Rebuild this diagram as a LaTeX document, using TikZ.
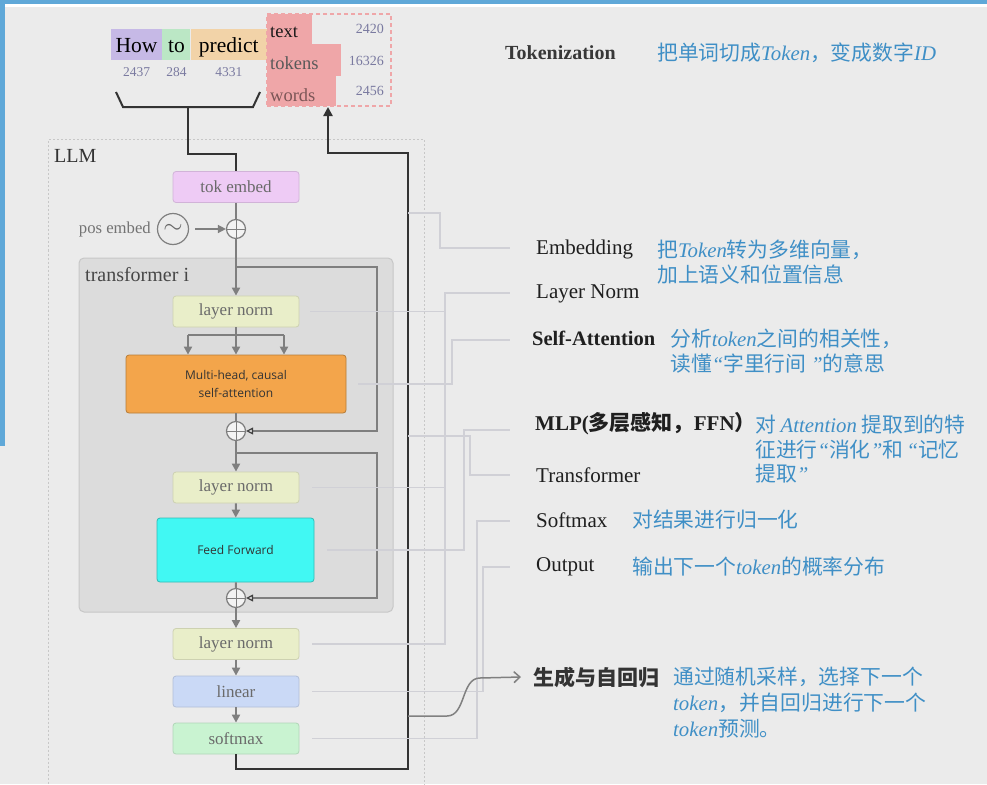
\documentclass[tikz,border=0pt]{standalone}
\usepackage{fontspec}
\setmainfont{Liberation Serif}
\newfontfamily\cjk{Noto Sans CJK SC}
\newfontfamily\uisans{Open Sans}
\usetikzlibrary{arrows.meta,positioning}

\definecolor{bgc}{HTML}{EBEBEB}
\definecolor{framec}{HTML}{5FA8D8}
\definecolor{flowc}{HTML}{7F7F7F}
\definecolor{loopc}{HTML}{333333}
\definecolor{leadc}{HTML}{D0D0D6}
\definecolor{descc}{HTML}{3F8FC6}
\definecolor{boxtext}{HTML}{6A6A6A}
\definecolor{howc}{HTML}{C6B9E6}
\definecolor{toc}{HTML}{BBE7C5}
\definecolor{predc}{HTML}{F2D3A8}
\definecolor{pinkc}{HTML}{EFA6A8}
\definecolor{numc}{HTML}{7A7AA0}
\definecolor{embc}{HTML}{EECBF5}
\definecolor{lnc}{HTML}{E9EEC9}
\definecolor{attc}{HTML}{F3A54B}
\definecolor{ffnc}{HTML}{41F8F3}
\definecolor{linc}{HTML}{CAD9F6}
\definecolor{smc}{HTML}{C9F3D1}
\definecolor{tblc}{HTML}{DCDCDC}

\newcommand\engit[1]{{\rmfamily\itshape #1}}
\newcommand\oq{{\rmfamily\itshape “}}
\newcommand\cq{{\rmfamily\itshape ”}}

\begin{document}
\begin{tikzpicture}[x=1pt, y=-1pt,
		blk/.style={rectangle, rounded corners=3pt, fill=#1, draw=#1!88!black, line width=0.8pt, minimum width=126pt, minimum height=31pt, inner sep=0pt, font=\fontsize{17}{18}\selectfont, text=boxtext},
		bigblk/.style={rectangle, rounded corners=3pt, fill=#1, draw=#1!75!black, line width=0.8pt, inner sep=0pt, align=center, font=\uisans\fontsize{12}{18}\selectfont, text=black!80},
		word/.style={rectangle, inner sep=0pt, minimum height=31pt, text height=16pt, text depth=0pt, font=\fontsize{21.5}{21.5}\selectfont, text=black},
		num/.style={inner sep=0pt, font=\fontsize{13.5}{14}\selectfont, text=numc},
		addc/.style={circle, draw=flowc, fill=bgc!60!white, line width=1.2pt, minimum size=19pt, inner sep=0pt,
			path picture={\draw[flowc, line width=1pt] (path picture bounding box.north) -- (path picture bounding box.south) (path picture bounding box.west) -- (path picture bounding box.east);}},
		flow/.style={draw=flowc, line width=2pt, -{Triangle[length=8pt, width=8pt]}},
		flowline/.style={draw=flowc, line width=2pt},
		resid/.style={draw=flowc, line width=2pt, -{Triangle[open, length=7pt, width=7pt, line width=1.2pt, color=black!75]}},
		backline/.style={draw=loopc, line width=2.2pt},
		lead/.style={draw=leadc, line width=1.2pt},
		lbl/.style={anchor=west, inner sep=0pt, font=\fontsize{21}{24}\selectfont, text=black!88},
		desc/.style={anchor=north west, align=left, inner sep=0pt, font=\cjk\fontsize{20.8}{25}\selectfont, text=descc}
	]
		\useasboundingbox (0,0) rectangle (987,784);
		% Background and frame
		\fill[bgc] (0,0) rectangle (987,784);
		\fill[framec] (0,0) rectangle (987,4);
		\fill[white] (5,4) rectangle (987,7);
		\fill[framec] (0,0) rectangle (5,446);
		
		% Tokens
		\node[word, fill=howc, minimum width=51pt] (how) at (136.5,44.5) {How};
		\node[word, fill=toc, minimum width=28pt, right=0pt of how] (to) {to};
		\node[word, fill=predc, minimum width=76pt, right=0pt of to] (predict) {predict};
		\node[num, below=7pt of how] (n2437) {2437};
		\node[num, below=7pt of to] (n284) {284};
		\node[num, below=7pt of predict] (n4331) {4331};
		
		% Vocabulary
		\fill[pinkc] (267,14) rectangle (312,44);
		\fill[pinkc] (267,44) rectangle (341,76);
		\fill[pinkc] (267,76) rectangle (336,106);
		\node[draw=pinkc, line width=1.2pt, dash pattern=on 4pt off 3pt, minimum width=124pt, minimum height=92pt, inner sep=0pt] (vocab) at (329,60) {};
		\node[anchor=west, inner sep=0pt, font=\fontsize{18.5}{18}\selectfont, text=black!90] (wtext) at (270,32) {text};
		\node[anchor=west, inner sep=0pt, font=\fontsize{18.5}{18}\selectfont, text=black!65] (wtokens) at (270,63) {tokens};
		\node[anchor=west, inner sep=0pt, font=\fontsize{18.5}{18}\selectfont, text=black!35!pinkc!80!black] (wwords) at (270,95) {words};
		\node[num, anchor=east, font=\fontsize{14}{14}\selectfont] (v2420) at (384,29) {2420};
		\node[num, anchor=east, font=\fontsize{14}{14}\selectfont] (v16326) at (384,61) {16326};
		\node[num, anchor=east, font=\fontsize{14}{14}\selectfont] (v2456) at (384,91) {2456};
		\coordinate (vin) at (328,107);
		
		% Bracket
		\draw[loopc, line width=2pt] (116,92) -- (123,107) -- (253,107) -- (260,92);
		\coordinate (brk) at (188,107);
		
		% LLM container
		\node[draw=black!22, line width=1pt, dash pattern=on 2pt off 2pt, minimum width=376pt, minimum height=670pt, anchor=north west] (llm) at (48,139) {};
		\node[anchor=west, inner sep=0pt, font=\fontsize{20}{20}\selectfont, text=black!80] (llml) at (54,156) {LLM};
		\node[rectangle, rounded corners=5pt, fill=tblc, draw=black!22, line width=1pt, minimum width=314pt, minimum height=354pt] (tblock) at (236,435) {};
		\node[anchor=west, inner sep=0pt, font=\fontsize{20}{20}\selectfont, text=black!72] (tbl) at (85,275) {transformer i};
		
		% Blocks
		\node[blk=embc] (tokemb) at (236,187) {tok embed};
		\node[addc] (add1) at (236,229) {};
		\node[circle, draw=flowc, line width=1.2pt, minimum size=31pt, inner sep=0pt, font=\fontsize{24}{24}\selectfont, text=black!60] (posemb) at (173,229) {$\sim$};
		\node[anchor=east, inner sep=0pt, font=\fontsize{16.7}{16}\selectfont, text=black!55] (posl) at (151,229) {pos embed};
		\node[blk=lnc] (ln1) at (236,311.5) {layer norm};
		\node[bigblk=attc, minimum width=220pt, minimum height=58pt] (attn) at (236,384) {Multi-head, causal\\self-attention};
		\node[addc] (add2) at (236,431) {};
		\node[blk=lnc] (ln2) at (236,487.5) {layer norm};
		\node[bigblk=ffnc, minimum width=157pt, minimum height=64pt] (ffn) at (235.5,550) {Feed Forward};
		\node[addc] (add3) at (236,598) {};
		\node[blk=lnc] (ln3) at (236,644) {layer norm};
		\node[blk=linc] (linear) at (236,691.5) {linear};
		\node[blk=smc] (softmax) at (236,738.5) {softmax};
		
		% Main flow
		\draw[backline] (brk) -- (188,154) -| (tokemb);
		\draw[backline, -{Triangle[length=9pt, width=9pt]}] (softmax.south) |- (408,769) -- (408,153) -| (vin);
		\draw[flowline] (tokemb) -- (add1);
		\draw[flow, line width=1.5pt, shorten <=6pt] (posemb) -- (add1);
		\draw[flow] (add1) -- (ln1);
		\draw[flowline] (ln1) -- (236,335);
		\draw[flowline] (188,335) -- (284,335);
		\foreach \xx in {188,236,284}
			\draw[flow] (\xx,335) -- (attn.north -| \xx,0);
		\draw[flowline] (attn) -- (add2);
		\draw[flow] (add2) -- (ln2);
		\draw[flow] (ln2) -- (ffn);
		\draw[flowline] (ffn) -- (add3);
		\draw[flow] (add3) -- (ln3);
		\draw[flow] (ln3) -- (linear);
		\draw[flow] (linear) -- (softmax);
		
		% Residuals
		\coordinate (r1) at (236,267);
		\coordinate (r2) at (236,453);
		\draw[resid] (r1) -| (377,431) -- (add2);
		\draw[resid] (r2) -| (377,598) -- (add3);
		
		% Labels
		\node[lbl, font=\bfseries\fontsize{20}{24}\selectfont, text=black!78] (tokz) at (505,53) {Tokenization};
		\node[desc, anchor=west] (dtokz) at (657,53) {把单词切成\engit{Token}，变成数字\engit{ID}};
		\node[lbl] (emb) at (536,249) {Embedding};
		\node[desc] (demb) at (657,240) {把\engit{Token}转为多维向量，\\加上语义和位置信息};
		\node[lbl] (lnlab) at (536,294) {Layer Norm};
		\node[lbl, font=\bfseries\fontsize{20.5}{24}\selectfont] (sa) at (532,338) {Self-Attention};
		\node[desc] (dsa) at (670,329) {分析\engit{token}之间的相关性，\\读懂\oq 字里行间 \cq 的意思};
		\node[lbl, font=\bfseries\fontsize{21}{24}\selectfont] (mlp) at (535,424) {MLP({\cjk 多层感知，}FFN{\cjk ）}};
		\node[desc, font=\cjk\fontsize{20.8}{24.5}\selectfont] (dmlp) at (755,415) {对 \engit{Attention} 提取到的特\\征进行\oq 消化\cq 和\,\oq 记忆\\提取\cq};
		\node[lbl] (tr) at (536,475) {Transformer};
		\node[lbl] (sm) at (536,520) {Softmax};
		\node[desc, anchor=west] (dsm) at (632,520) {对结果进行归一化};
		\node[lbl] (out) at (536,567) {Output};
		\node[desc, anchor=west] (dout) at (632,567) {输出下一个\engit{token}的概率分布};
		\node[lbl, font=\cjk\bfseries\fontsize{21}{24}\selectfont, text=black!80] (gen) at (533,677) {生成与自回归};
		\node[desc, font=\cjk\fontsize{20.8}{26}\selectfont] (dgen) at (673,667) {通过随机采样，选择下一个\\\engit{token}，并自回归进行下一个\\\engit{token}预测。};
		
		% Leaders
		\coordinate (eEmb) at (510,248);
		\coordinate (eLN) at (510,293);
		\coordinate (eSA) at (510,340);
		\coordinate (eMLP) at (510,430);
		\coordinate (eTr) at (510,475);
		\coordinate (eSm) at (510,521);
		\coordinate (eOut) at (510,567);
		\coordinate (sEmb) at (408,213);
		\coordinate (sTr) at (408,436);
		\draw[lead] (sEmb) -- (440,213) |- (eEmb);
		\draw[lead] ([xshift=13pt]ln3.east) -| (445,293) -- (eLN);
		\draw[lead] ([xshift=11pt]ln1.east) -- (445,311.5);
		\draw[lead] ([xshift=13pt]ln2.east) -- (445,487.5);
		\draw[lead] ([xshift=12pt]attn.east) -| (452,340) -- (eSA);
		\draw[lead] ([xshift=13pt]ffn.east) -| (464,430) -- (eMLP);
		\draw[lead] (sTr) -| (470,475) -- (eTr);
		\draw[lead] ([xshift=13pt]softmax.east) -| (477,521) -- (eSm);
		\draw[lead] ([xshift=13pt]linear.east) -| (483,567) -- (eOut);
		
		% Generation
		\coordinate (gstart) at (408,716);
		\draw[draw=black!50, line width=1.5pt, -{Straight Barb[length=6pt, width=11pt]}] (gstart) -- (447,716) .. controls (466,716) and (461,678) .. (480,678) -- ([xshift=-12pt]gen.west);
	\end{tikzpicture}
\end{document}
